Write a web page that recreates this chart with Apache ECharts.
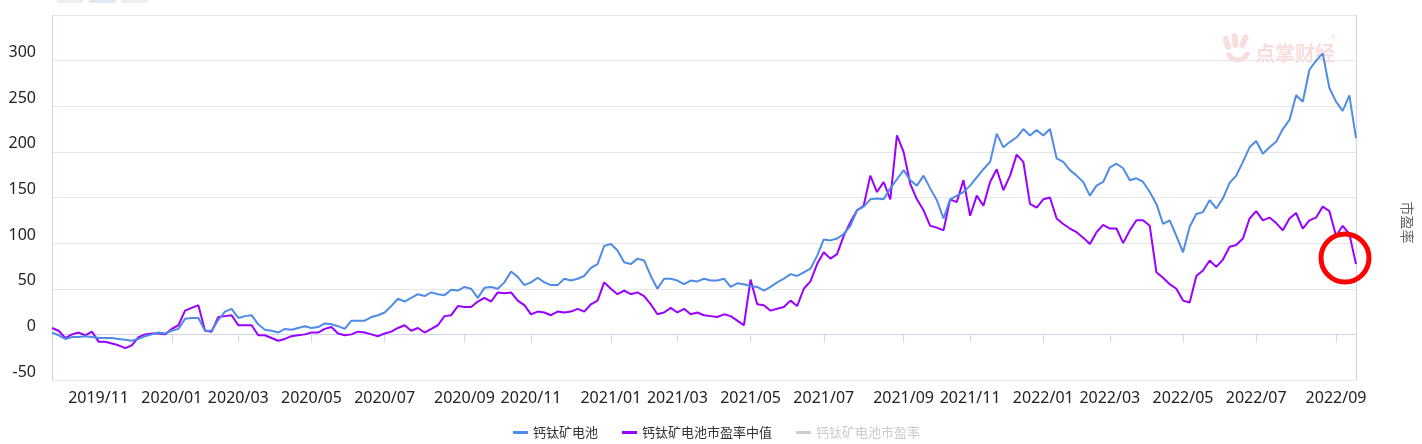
<!DOCTYPE html>
<html><head><meta charset="utf-8">
<script src="https://cdn.jsdelivr.net/npm/echarts@6/dist/echarts.min.js"></script>
<style>html,body{margin:0;padding:0;background:#fff}#c{width:1422px;height:444px}</style>
</head><body><div id="c"></div>
<script>
const tickLabels = ['2019/11','2020/01','2020/03','2020/05','2020/07','2020/09','2020/11','2021/01','2021/03','2021/05','2021/07','2021/09','2021/11','2022/01','2022/03','2022/05','2022/07','2022/09'];
const tickIndex = [7,18,28,39,50,62,72,84,94,105,116,128,138,149,159,170,181,193];
const yTickLabels = [-50, 0, 50, 100, 150, 200, 250, 300];

const batteryIndex = [
2,-1,-5,-3,-3,-2,-3,-4,-4,-4,-5,-6,-7,-5,-2,0,2,1,4,6,17,18,18,4,4,16,25,28,18,20,21,11,5,4,2,6,5,7,9,7,
8,12,11,9,6,15,15,15,19,21,24,31,39,36,40,44,42,46,44,43,49,48,52,50,40,51,52,50,57,69,63,54,57,62,57,54,54,61,59,
61,64,73,77,97,99,92,79,77,83,81,64,50,61,61,59,55,59,58,61,59,59,61,52,56,55,53,52,48,52,57,61,66,64,68,72,86,104,103,
105,110,119,136,140,148,149,148,160,170,180,169,163,174,160,147,127,148,152,156,163,172,181,189,220,205,211,216,225,218,224,218,225,193,189,180,174,167,152,
163,167,183,187,182,169,171,167,156,143,121,125,108,90,118,132,134,147,138,149,166,174,189,205,212,198,205,211,225,235,262,255,290,300,308,270,255,245,262,215
];
const peMedian = [
7,4,-4,0,2,-1,3,-8,-8,-10,-12,-15,-12,-3,0,1,1,0,6,10,26,29,32,4,3,19,20,21,10,10,10,-1,-1,-4,-7,-5,-2,-1,0,2,
2,6,8,1,-1,0,3,2,0,-2,1,3,7,10,4,7,2,6,10,20,21,31,30,30,36,40,36,46,45,46,37,32,22,25,24,21,25,24,25,
28,25,33,37,57,50,44,48,44,46,42,33,22,24,29,24,28,22,24,21,20,19,22,20,15,10,60,33,32,26,28,30,37,31,50,58,77,90,83,
88,108,123,136,141,174,156,167,148,218,200,165,148,136,119,117,114,148,145,169,130,152,141,167,181,158,174,197,189,143,139,148,150,127,121,116,112,106,99,
112,120,116,116,100,114,125,125,119,68,62,55,50,37,35,64,70,81,74,82,96,98,105,127,135,125,128,122,114,127,133,116,125,128,140,135,108,119,110,77
];
const peValues = [];

const seriesNames = ['钙钛矿电池','钙钛矿电池市盈率中值','钙钛矿电池市盈率'];

// category labels: month of each sample
const categories = batteryIndex.map((_, i) => {
  let lab = '2019/10';
  for (let k = 0; k < tickIndex.length; k++) if (tickIndex[k] <= i) lab = tickLabels[k];
  return lab;
});
const tickSet = new Set(tickIndex);
const showTick = (idx) => tickSet.has(idx);

const chart = echarts.init(document.getElementById('c'), null, {renderer: 'canvas'});
const axisColor = '#ccd6eb';
const pink = 'rgba(236,150,150,0.32)';
chart.setOption({
  animation: false,
  textStyle: {fontFamily: 'Noto Sans, Noto Sans CJK SC'},
  grid: {left: 52, right: 64, top: 15, bottom: 64},
  legend: {
    bottom: 0, left: 508, itemGap: 24, itemWidth: 15, itemHeight: 3, icon: 'rect',
    textStyle: {fontSize: 13, color: '#333', fontFamily: 'Noto Sans CJK SC'},
    inactiveColor: '#ccc',
    data: seriesNames,
    selected: {'钙钛矿电池市盈率': false}
  },
  xAxis: {
    type: 'category', boundaryGap: false, data: categories,
    axisLine: {lineStyle: {color: axisColor}},
    axisTick: {interval: showTick, length: 8, lineStyle: {color: axisColor}},
    axisLabel: {interval: showTick, margin: 10, fontSize: 16, color: '#222', fontFamily: 'Noto Sans'},
    splitLine: {show: false}
  },
  yAxis: [{
    type: 'value', min: -50, max: 350, interval: 50,
    axisLine: {show: true, lineStyle: {color: axisColor}},
    axisTick: {show: false},
    axisLabel: {margin: 16, fontSize: 16, color: '#222', verticalAlign: 'bottom', lineHeight: 16,
      formatter: v => (yTickLabels.indexOf(v) >= 0 ? String(v) : '')},
    splitLine: {lineStyle: {color: '#e6e6e6'}}
  }, {
    type: 'value', min: 0, max: 1, position: 'right',
    name: '市盈率', nameLocation: 'middle', nameGap: 44, nameRotate: -90,
    nameTextStyle: {fontSize: 14, color: '#666', fontFamily: 'Noto Sans CJK SC', padding: [0, 0, 0, 50]},
    axisLine: {show: true, lineStyle: {color: axisColor}},
    axisTick: {show: false}, axisLabel: {show: false}, splitLine: {show: false}
  }],
  series: [
    {name: seriesNames[0], type: 'line', data: batteryIndex, showSymbol: false, symbol: 'none',
     lineStyle: {width: 2, color: '#4f8ce6'}, itemStyle: {color: '#4f8ce6'}, z: 3},
    {name: seriesNames[1], type: 'line', data: peMedian, showSymbol: false, symbol: 'none',
     lineStyle: {width: 2, color: '#9900ff'}, itemStyle: {color: '#9900ff'}, z: 2},
    {name: seriesNames[2], type: 'line', yAxisIndex: 1, data: peValues, showSymbol: false, symbol: 'none',
     lineStyle: {width: 2, color: '#ccc'}, itemStyle: {color: '#aaa'}}
  ],
  graphic: [
    {type: 'rect', shape: {x: 57, y: 0, width: 26, height: 3}, style: {fill: '#eeeeee'}, silent: true},
    {type: 'rect', shape: {x: 89, y: 0, width: 27, height: 3}, style: {fill: '#e2e8f6'}, silent: true},
    {type: 'rect', shape: {x: 121, y: 0, width: 27, height: 3}, style: {fill: '#eeeeee'}, silent: true},
    {type: 'text', left: 1255, top: 43, silent: true,
     style: {text: '点掌财经', fontSize: 20, fontWeight: 'bold', fill: pink, fontFamily: 'Noto Sans CJK SC'}},
    {type: 'text', left: 1330, top: 34, silent: true,
     style: {text: '®', fontSize: 9, fill: pink}},
    {type: 'rect', shape: {x: 1224, y: 36, width: 6, height: 14, r: 3}, rotation: 0.3, originX: 1227, originY: 43, style: {fill: pink}, silent: true},
    {type: 'rect', shape: {x: 1232, y: 33, width: 6, height: 15, r: 3}, rotation: 0.1, originX: 1235, originY: 40, style: {fill: pink}, silent: true},
    {type: 'rect', shape: {x: 1241, y: 34, width: 6, height: 14, r: 3}, rotation: -0.4, originX: 1244, originY: 41, style: {fill: pink}, silent: true},
    {type: 'arc', shape: {cx: 1238, cy: 50, r: 10, startAngle: 0.2, endAngle: 2.9}, style: {stroke: pink, lineWidth: 5, fill: 'none'}, silent: true},
    {type: 'circle', shape: {cx: 1345, cy: 258, r: 24}, silent: true, z: 100,
     style: {fill: 'none', stroke: '#ff0000', lineWidth: 5}}
  ]
});
</script></body></html>
